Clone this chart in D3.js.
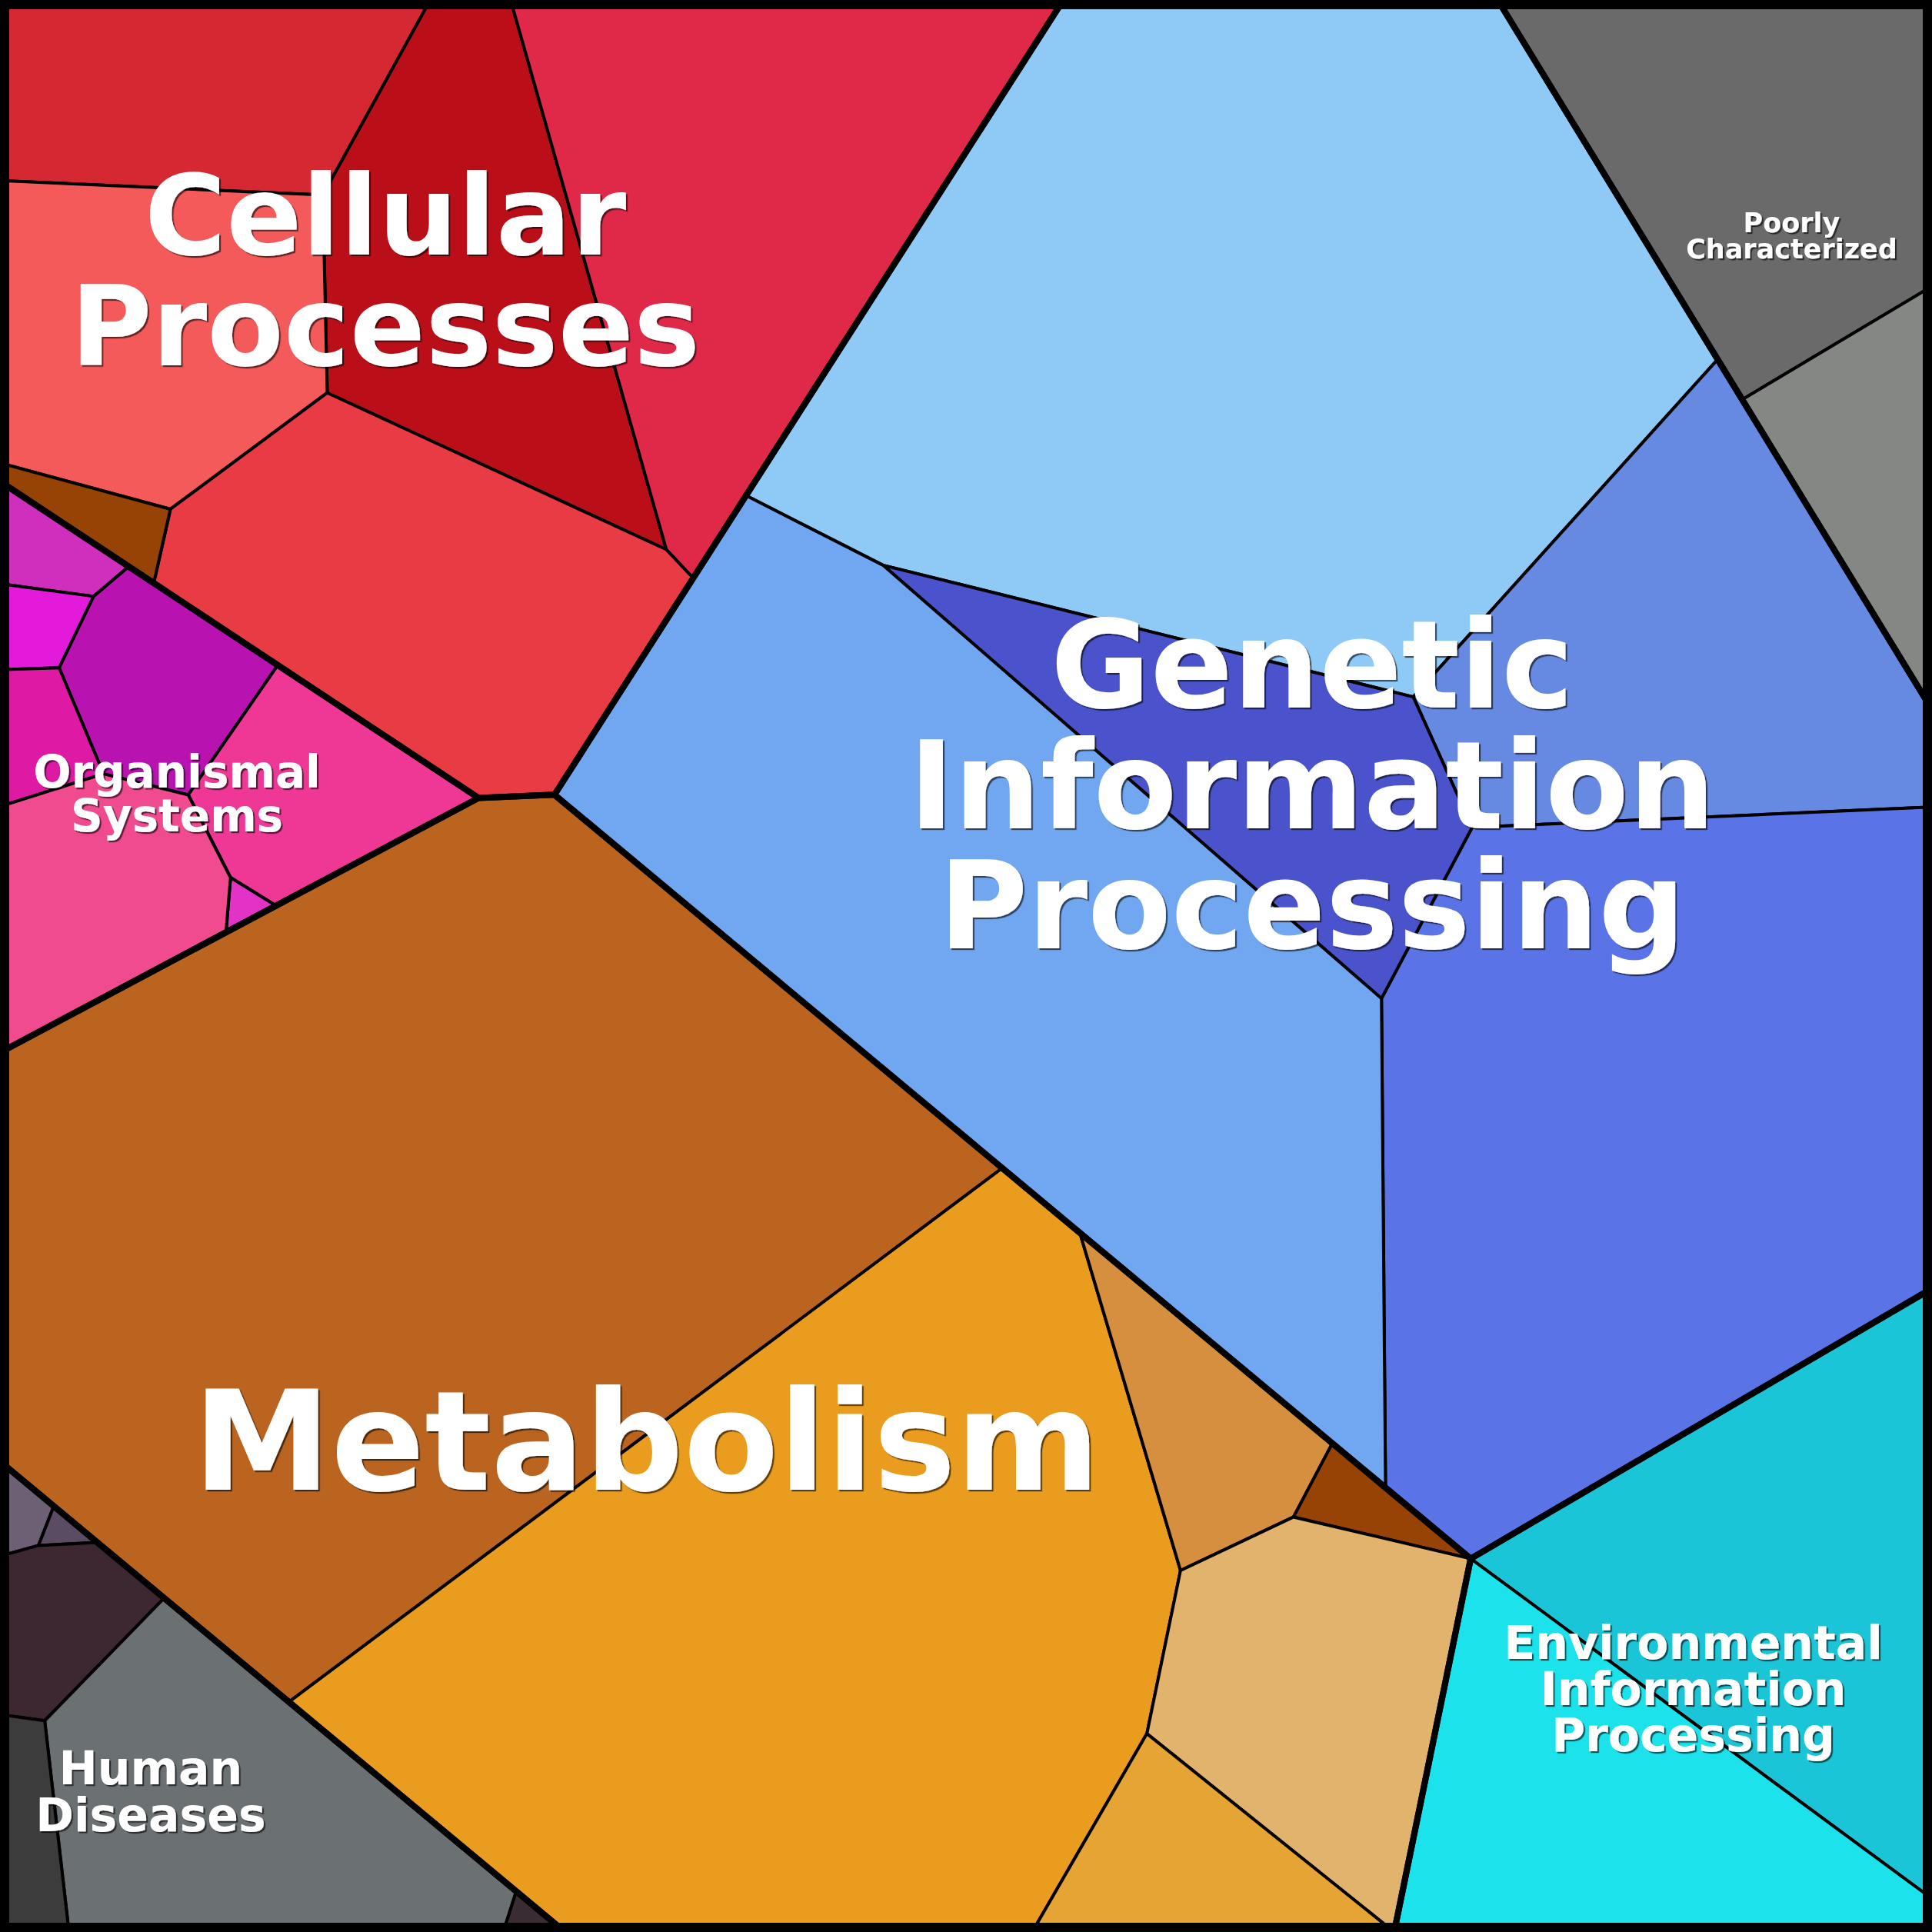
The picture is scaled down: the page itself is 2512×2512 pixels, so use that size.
<!DOCTYPE html>
<html>
<head>
<meta charset="utf-8">
<script src="https://cdn.jsdelivr.net/npm/d3@7"></script>
<style>
  html, body { margin: 0; padding: 0; background: #ffffff; }
  svg { display: block; }
</style>
</head>
<body>
<svg id="chart" width="2512" height="2512"></svg>
<script>
// ---------- DATA (Voronoi treemap cells, vertices in map units 0..1568) ----------
const categories = ["Cellular Processes", "Organismal Systems", "Genetic Information Processing",
  "Poorly Characterized", "Environmental Information Processing", "Metabolism", "Human Diseases"];

const cellularCells = [
  [[0,0],[349.2,0],[262,158.3],[0,146.5]],
  [[349.2,0],[414.4,0],[540.8,446],[265.6,318.8],[262,158.3]],
  [[414.4,0],[863,0],[562.6,469.2],[540.8,446]],
  [[0,146.5],[262,158.3],[265.6,318.8],[138.3,413.2],[0,375.8]],
  [[138.3,413.2],[265.6,318.8],[540.8,446],[562.6,469.2],[450,645],[388.4,647.6],[124.8,473.2]],
  [[0,375.8],[138.3,413.2],[124.8,473.2],[0,390.7]]
];
const organismalCells = [
  [[0,390.7],[104.5,459.8],[76,484],[0,473.8]],
  [[0,473.8],[76,484],[48,542],[0,543.5]],
  [[76,484],[104.5,459.8],[225.4,539.8],[152.8,645.1],[84,628],[48,542]],
  [[0,543.5],[48,542],[84,628],[0,654.5]],
  [[225.4,539.8],[388.4,647.6],[224,735],[187.1,712.2],[152.8,645.1]],
  [[187.1,712.2],[224,735],[183.4,756.6]],
  [[0,654.5],[84,628],[152.8,645.1],[187.1,712.2],[183.4,756.6],[0,854.2]]
];
const geneticCells = [
  [[863,0],[1215.5,0],[1394,291.7],[1147,565.6],[716.6,458.7],[605.5,402.2]],
  [[1394,291.7],[1414,324.3],[1568,576],[1568,655],[1194.8,671.5],[1147,565.6]],
  [[1194.8,671.5],[1568,655],[1568,1045.7],[1193.6,1265],[1124.5,1207.4],[1121.2,810.4]],
  [[716.6,458.7],[1147,565.6],[1194.8,671.5],[1121.2,810.4]],
  [[605.5,402.2],[716.6,458.7],[1121.2,810.4],[1124.5,1207.4],[450,645]]
];
const poorlyCells = [
  [[1215.5,0],[1568,0],[1568,232.3],[1414,324.3]],
  [[1414,324.3],[1568,232.3],[1568,576]]
];
const environmentalCells = [
  [[1193.6,1265],[1568,1045.7],[1568,1541]],
  [[1193.6,1265],[1568,1541],[1568,1568],[1131.5,1568]]
];
const metabolismCells = [
  [[0,854.2],[388.4,647.6],[450,645],[813.4,948],[234.5,1381.3],[0,1186]],
  [[813.4,948],[876.4,1000.5],[958.1,1274.6],[930.8,1407],[837.7,1568],[458.6,1568],[234.5,1381.3]],
  [[876.4,1000.5],[1081.3,1171.4],[1049.8,1231.2],[958.1,1274.6]],
  [[1081.3,1171.4],[1193.6,1265],[1049.8,1231.2]],
  [[958.1,1274.6],[1049.8,1231.2],[1193.6,1265],[1131.5,1568],[930.8,1407]],
  [[930.8,1407],[1131.5,1568],[837.7,1568]]
];
const humanCells = [
  [[0,1186],[43.7,1222.4],[31.2,1254.3],[0,1263]],
  [[43.7,1222.4],[79.1,1251.9],[31.2,1254.3]],
  [[0,1263],[31.2,1254.3],[79.1,1251.9],[133.2,1297],[36.3,1396.5],[0,1391.5]],
  [[133.2,1297],[234.5,1381.3],[419,1535],[408.4,1568],[56,1568],[36.3,1396.5]],
  [[0,1391.5],[36.3,1396.5],[56,1568],[0,1568]],
  [[419,1535],[458.6,1568],[408.4,1568]]
];

// Colours of the cells, per group (same order as the cells)
const cellularColors = ["#D62833", "#BA0F19", "#E02848", "#F55A5A", "#E93B43", "#964305"];
const organismalColors = ["#D02EBD", "#E41ADB", "#B813B0", "#DE1AA5", "#EF3896", "#E333C6", "#F04B8F"];
const geneticColors = ["#8FCAF6", "#6689E1", "#5A74E8", "#4A53CB", "#71A7F0"];
const poorlyColors = ["#696A69", "#858785"];
const environmentalColors = ["#19C5D6", "#1CE2EB"];
const metabolismColors = ["#BA6420", "#EA9C1E", "#D68F3E", "#964305", "#E1B36D", "#E6A434"];
const humanColors = ["#6D6075", "#594C63", "#3D2831", "#6B7073", "#3D3C3D", "#3A2C33"];

// Label lines for each group
const labelLines = [
  ["Cellular", "Processes"],
  ["Organismal", "Systems"],
  ["Genetic", "Information", "Processing"],
  ["Poorly", "Characterized"],
  ["Environmental", "Information", "Processing"],
  ["Metabolism"],
  ["Human", "Diseases"]
];

// ---------- LAYOUT (label anchor in map units, font size in px, line step in px) ----------
const labelLayout = [
  { cx: 312.7, y0: 206.9, size: 145, step: 144 },
  { cx: 143.6, y0: 638.9, size: 58, step: 57.5 },
  { cx: 1064.9, y0: 574.3, size: 158, step: 156.6 },
  { cx: 1454.1, y0: 188.4, size: 35, step: 33.7 },
  { cx: 1374.2, y0: 1346.4, size: 60, step: 59.8 },
  { cx: 524.8, y0: 1208.9, size: 180, step: 180 },
  { cx: 122.3, y0: 1448.4, size: 60, step: 60.6 }
];

// ---------- DRAW ----------
const W = 2512, H = 2512;
const x = d3.scaleLinear().domain([0, 1568]).range([0, W]);
const y = d3.scaleLinear().domain([0, 1568]).range([0, H]);

const svg = d3.select("#chart");

const defs = svg.append("defs");
const shadow = defs.append("filter").attr("id", "txtShadow")
  .attr("x", "-5%").attr("y", "-5%").attr("width", "110%").attr("height", "120%");
shadow.append("feDropShadow")
  .attr("dx", 2.2).attr("dy", 2.2).attr("stdDeviation", 0.6)
  .attr("flood-color", "#000").attr("flood-opacity", 0.6);

const groupCells = [cellularCells, organismalCells, geneticCells, poorlyCells,
  environmentalCells, metabolismCells, humanCells];
const groupColors = [cellularColors, organismalColors, geneticColors, poorlyColors,
  environmentalColors, metabolismColors, humanColors];

const toPath = pts => "M" + pts.map(p => x(p[0]) + "," + y(p[1])).join("L") + "Z";

const cellsData = [];
groupCells.forEach((cells, gi) => cells.forEach((pts, ci) =>
  cellsData.push({ group: categories[gi], pts, color: groupColors[gi][ci] })));

svg.append("g").attr("class", "cells")
  .selectAll("path").data(cellsData).join("path")
  .attr("d", d => toPath(d.pts))
  .attr("fill", d => d.color)
  .attr("stroke", "#000")
  .attr("stroke-width", 4)
  .attr("stroke-linejoin", "round");

// group outlines: top-level cells are convex -> hull of all their vertices
const groupHulls = groupCells.map(cells => d3.polygonHull(cells.flat()));
svg.append("g").attr("class", "groups")
  .selectAll("path").data(groupHulls).join("path")
  .attr("d", d => toPath(d))
  .attr("fill", "none")
  .attr("stroke", "#000")
  .attr("stroke-width", 8)
  .attr("stroke-linejoin", "round");

// outer frame
svg.append("rect")
  .attr("x", x(0)).attr("y", y(0))
  .attr("width", x(1568) - x(0)).attr("height", y(1568) - y(0))
  .attr("fill", "none").attr("stroke", "#000").attr("stroke-width", 24);

// labels
const lab = svg.append("g").attr("class", "labels")
  .attr("font-family", "'DejaVu Sans', sans-serif")
  .attr("font-weight", "bold")
  .attr("text-anchor", "middle");

labelLines.forEach((lines, i) => {
  const L = labelLayout[i];
  const t = lab.append("text")
    .attr("font-size", L.size)
    .attr("fill", "#ffffff")
    .attr("filter", "url(#txtShadow)");
  t.selectAll("tspan").data(lines).join("tspan")
    .attr("x", x(L.cx))
    .attr("y", (d, k) => y(L.y0) + k * L.step)
    .text(d => d);
});
</script>
</body>
</html>
